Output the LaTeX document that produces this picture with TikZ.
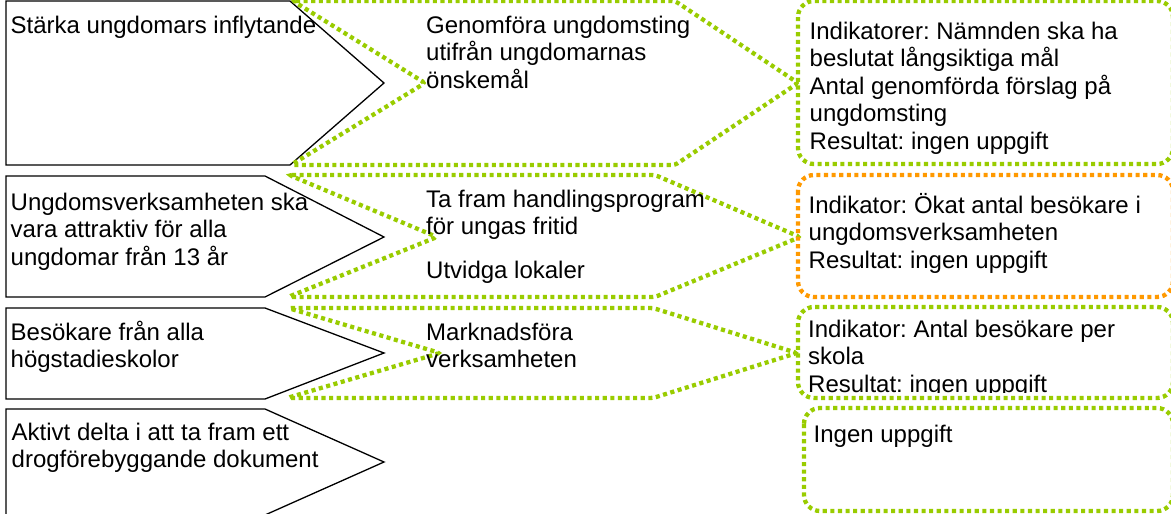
\documentclass[tikz,border=0pt]{standalone}
\usepackage{fontspec}
\setmainfont{Liberation Sans}
\frenchspacing
\definecolor{lgreen}{HTML}{99CC00}
\definecolor{lorange}{HTML}{FF9900}
\newcommand{\mltext}[1]{\begin{tabular}[t]{@{}l@{}}#1\end{tabular}}
\tikzset{
  goalshape/.style={draw=black, line width=1.3pt, line join=miter},
  actshape/.style={draw=lgreen, line width=4.3pt, dash pattern=on 4.1pt off 3.5pt, rounded corners=3pt},
  indshape/.style={line width=4.3pt, dash pattern=on 4.1pt off 3.5pt, rounded corners=16pt},
  txt/.style={anchor=base west, inner sep=0pt, font=\fontsize{24}{27.6}\selectfont\frenchspacing},
}
\begin{document}
\begin{tikzpicture}[x=1pt,y=-1pt]
\useasboundingbox (0,0) rectangle (1171,514);
\clip (0,0) rectangle (1171,514);

% goal pentagons
\draw[goalshape] (6,1) -- (290,1) -- (384,83) -- (290,165) -- (6,165) -- cycle;
\draw[goalshape] (6,176) -- (265,176) -- (384,237) -- (265,297) -- (6,297) -- cycle;
\draw[goalshape] (6,308) -- (265,308) -- (384,353) -- (265,399) -- (6,399) -- cycle;
\draw[goalshape] (6,409) -- (265,409) -- (384,462) -- (265,515) -- (6,515) -- cycle;

% activity chevrons
\draw[actshape] (293,1) -- (675,1) -- (798,83) -- (675,165) -- (291,165) -- (425,83) -- cycle;
\draw[actshape] (289,175) -- (655,175) -- (800,237) -- (655,297) -- (288,297) -- (437,237) -- cycle;
\draw[actshape] (288,308) -- (653,308) -- (797,353) -- (653,398) -- (287,398) -- (440,353) -- cycle;

% indicator boxes
\draw[indshape, draw=lgreen] (798,1) rectangle (1173,164);
\draw[indshape, draw=lorange] (798,175) rectangle (1173,297);
\draw[indshape, draw=lgreen] (798,307) rectangle (1173,398);
\draw[indshape, draw=lgreen] (804,408) rectangle (1173,511);

% goal texts
\node[txt] (g1) at (10.5,33) {Stärka ungdomars inflytande};
\node[txt] (g2) at (10.5,210) {\mltext{Ungdomsverksamheten ska\\vara attraktiv för alla\\ungdomar från 13 år}};
\node[txt] (g3) at (10.5,340) {\mltext{Besökare från alla\\högstadieskolor}};
\node[txt] (g4) at (11.5,440) {\mltext{Aktivt delta i att ta fram ett\\drogförebyggande dokument}};

% activity texts
\node[txt] (a1) at (426,33) {\mltext{Genomföra ungdomsting\\utifrån ungdomarnas\\önskemål}};
\node[txt] (a2) at (426,207) {\mltext{Ta fram handlingsprogram\\för ungas fritid}};
\node[txt] (a2b) at (426,278) {Utvidga lokaler};
\node[txt] (a3) at (426,340) {\mltext{Marknadsföra\\verksamheten}};

% indicator texts
\node[txt] (i1) at (809.5,39) {\mltext{Indikatorer: Nämnden ska ha\\beslutat långsiktiga mål\\Antal genomförda förslag på\\ungdomsting\\Resultat: ingen uppgift}};
\node[txt] (i2) at (808.5,213) {\mltext{Indikator: Ökat antal besökare i\\ungdomsverksamheten\\Resultat: ingen uppgift}};
\begin{scope}
  \clip (798,307) rectangle (1173,392);
  \node[txt] (i3) at (808,337) {\mltext{Indikator: Antal besökare per\\skola\\Resultat: ingen uppgift}};
\end{scope}
\node[txt] (i4) at (813.5,442) {Ingen uppgift};
\end{tikzpicture}
\end{document}
